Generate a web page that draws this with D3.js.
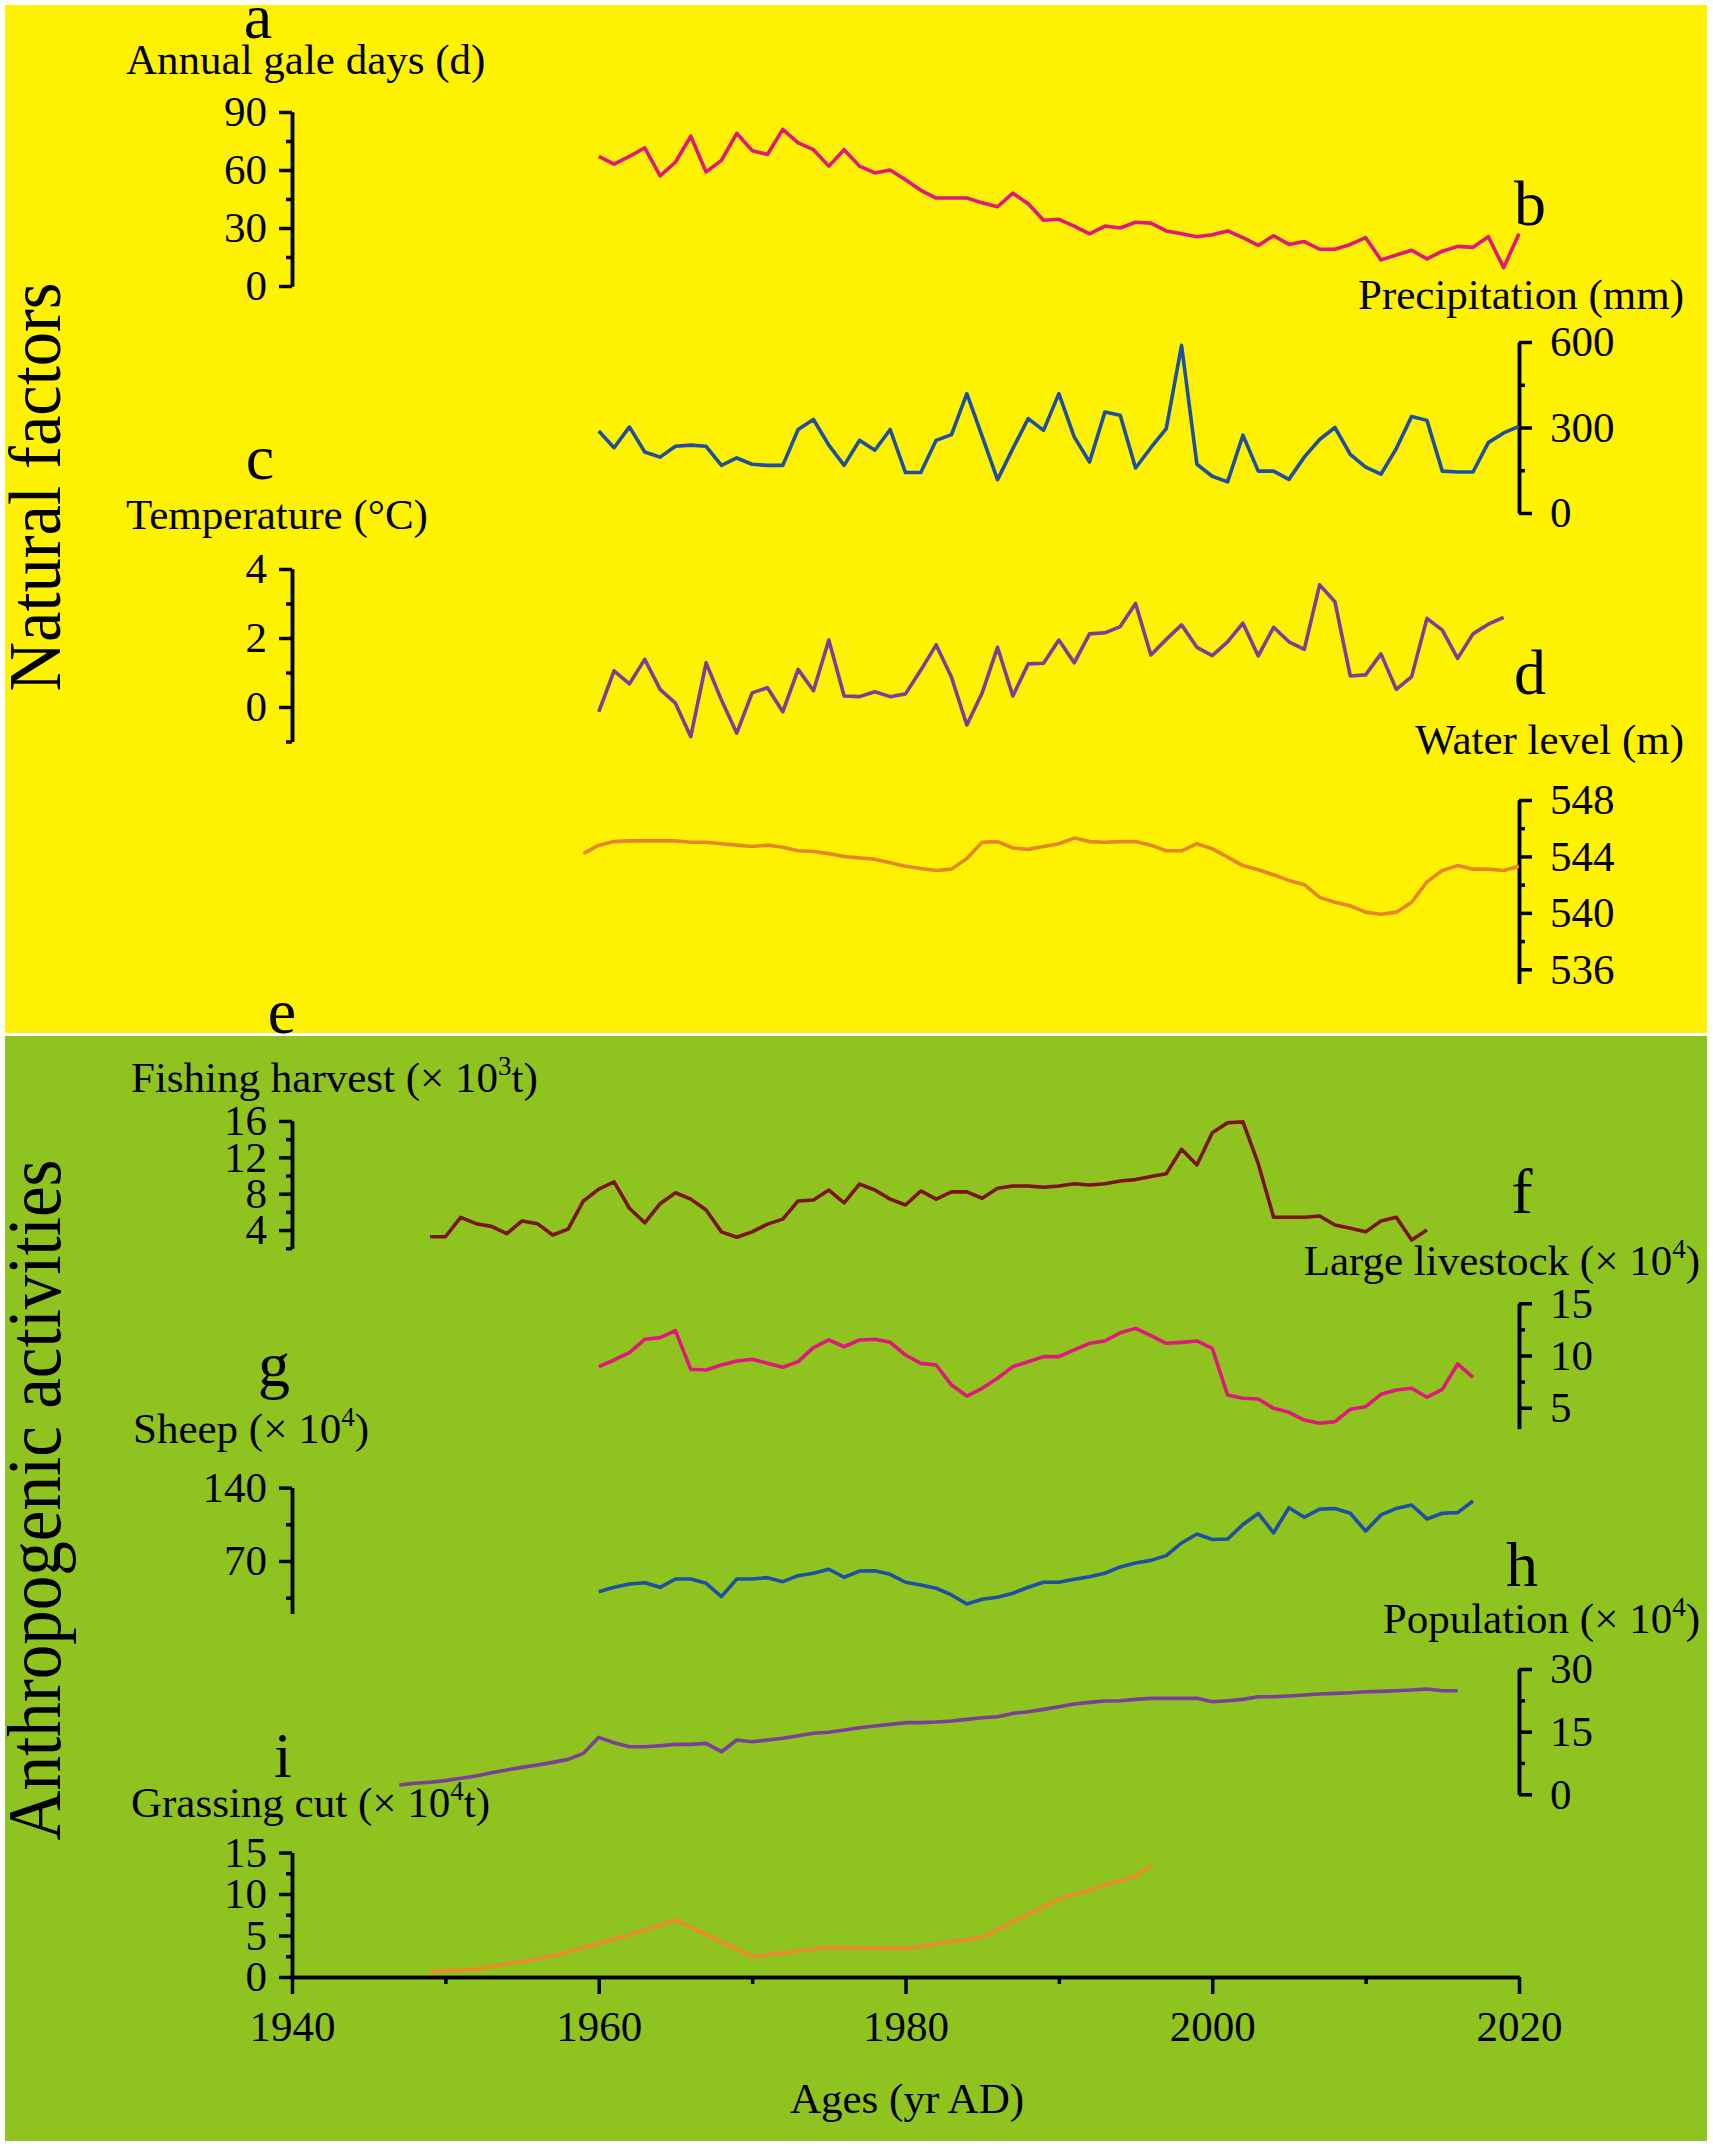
<!DOCTYPE html>
<html>
<head>
<meta charset="utf-8">
<script src="https://cdn.jsdelivr.net/npm/d3@7"></script>
<style>
    body { margin: 0; background: #ffffff; }
    text { font-family: "Liberation Serif", "Times New Roman", serif; fill: #000; }
</style>
</head>
<body>
<div id="wrapper"></div>
<script>
// 1. Data

const galeYears = d3.range(1960, 2021);
const galeDays = [
    67, 63, 67, 71.5, 57, 64, 77.5, 59, 65, 79,
    70, 68, 81, 74, 70.5, 62, 70.5, 62, 58.5, 60,
    55, 49.5, 45.5, 45.5, 45.5, 43, 41, 48, 42.5, 34,
    34.5, 31, 27, 31, 30, 33, 32.5, 28.5, 27, 25.5,
    26.5, 28.5, 25, 21, 26, 21.5, 23, 19, 19, 21.5,
    25, 13.5, 16, 18.5, 14, 18, 20.5, 20, 25.5, 9.5, 27
];

const precipYears = d3.range(1960, 2021);
const precipitation = [
    288, 229, 302, 214, 196, 234, 238, 234, 167, 193,
    171, 167, 167, 293, 328, 238, 167, 255, 220, 293,
    142, 142, 255, 275, 419, 269, 117, 226, 331, 290,
    419, 267, 179, 354, 343, 158, 229, 296, 588, 171,
    129, 109, 273, 147, 147, 118, 196, 258, 300, 206,
    161, 136, 226, 339, 325, 147, 144, 144, 247, 281, 304
];

const tempYears = d3.range(1960, 2020);
const temperature = [
    -0.14, 1.05, 0.67, 1.38, 0.51, 0.11, -0.86, 1.28, 0.2, -0.76,
    0.41, 0.56, -0.14, 1.09, 0.47, 1.94, 0.32, 0.3, 0.44, 0.3,
    0.38, 1.07, 1.8, 0.86, -0.52, 0.41, 1.73, 0.32, 1.25, 1.27,
    1.94, 1.28, 2.12, 2.15, 2.33, 3.0, 1.51, 1.96, 2.38, 1.73,
    1.49, 1.89, 2.43, 1.48, 2.31, 1.89, 1.67, 3.54, 3.05, 0.9,
    0.93, 1.54, 0.51, 0.88, 2.57, 2.23, 1.41, 2.12, 2.4, 2.6
];

const waterYears = d3.range(1959, 2021);
const waterLevel = [
    544.2,
    544.8, 545.05, 545.1, 545.1, 545.1, 545.1, 545.0, 545.0, 544.9, 544.8,
    544.7, 544.8, 544.65, 544.4, 544.35, 544.2, 544.0, 543.9, 543.8, 543.55,
    543.3, 543.15, 543.0, 543.1, 543.85, 545.0, 545.05, 544.6, 544.5, 544.7,
    544.9, 545.3, 545.05, 545.0, 545.05, 545.05, 544.8, 544.4, 544.4, 544.9,
    544.55, 543.95, 543.35, 543.05, 542.7, 542.3, 542.0, 541.1, 540.75, 540.5,
    540.05, 539.9, 540.05, 540.75, 542.2, 543.0, 543.35, 543.1, 543.1, 543.0, 543.3
];

const fishYears = d3.range(1949, 2015);
const fishing = [
    3.26, 3.26,
    5.4, 4.7, 4.4, 3.6, 5.0, 4.7, 3.45, 4.1, 7.2, 8.5,
    9.3, 6.4, 4.8, 6.9, 8.1, 7.4, 6.2, 3.8, 3.2, 3.8,
    4.65, 5.2, 7.2, 7.3, 8.4, 7.0, 9.05, 8.4, 7.4, 6.75,
    8.3, 7.4, 8.2, 8.2, 7.5, 8.6, 8.85, 8.85, 8.7, 8.85,
    9.1, 8.95, 9.1, 9.4, 9.55, 9.9, 10.2, 12.9, 11.15, 14.7,
    15.8, 15.9, 11.3, 5.4, 5.4, 5.4, 5.55, 4.55, 4.2, 3.8,
    5.0, 5.4, 2.9, 4.0
];

const livestockYears = d3.range(1960, 2018);
const largeLivestock = [
    8.93, 9.57, 10.27, 11.55, 11.71, 12.38, 8.68, 8.61, 9.09, 9.47,
    9.64, 9.25, 8.87, 9.41, 10.75, 11.49, 10.84, 11.49, 11.55, 11.26,
    10.05, 9.25, 9.09, 7.17, 6.12, 6.86, 7.82, 8.93, 9.41, 9.89,
    9.89, 10.53, 11.17, 11.39, 12.18, 12.6, 11.9, 11.17, 11.26, 11.39,
    10.69, 6.22, 5.9, 5.84, 4.94, 4.56, 3.82, 3.51, 3.67, 4.85,
    5.1, 6.28, 6.7, 6.86, 6.0, 6.76, 9.19, 7.91
];

const sheepYears = d3.range(1960, 2018);
const sheep = [
    40.7, 44.9, 48.1, 49.3, 44.9, 52.8, 52.8, 48.7, 36.0, 52.8,
    52.8, 54.1, 50.3, 56.0, 58.3, 62.1, 54.5, 60.4, 60.7, 57.3,
    49.7, 47.1, 44.0, 37.6, 29.0, 33.5, 35.4, 39.2, 44.9, 49.7,
    49.7, 52.5, 55.0, 58.3, 64.3, 68.1, 70.6, 75.1, 87.2, 95.7,
    90.5, 90.9, 104.8, 115.3, 96.9, 120.8, 111.7, 119.5, 120.1, 115.5,
    98.6, 113.9, 120.1, 123.4, 110.1, 115.5, 116.1, 127.2
];

const popYears = d3.range(1947, 2017);
const population = [
    2.23, 2.63, 2.87,
    3.27, 3.83, 4.38, 5.18, 5.82, 6.45, 7.01, 7.64, 8.36, 9.8,
    13.64, 12.36, 11.4, 11.4, 11.64, 11.96, 11.96, 12.2, 10.2, 13.0,
    12.6, 13.0, 13.4, 14.04, 14.6, 14.84, 15.39, 15.95, 16.35, 16.75,
    17.15, 17.15, 17.3, 17.54, 17.94, 18.34, 18.57, 19.37, 19.77, 20.34,
    20.97, 21.6, 22.0, 22.33, 22.4, 22.73, 22.97, 22.97, 22.97, 22.97,
    22.17, 22.4, 22.73, 23.37, 23.37, 23.53, 23.77, 24.0, 24.17, 24.33,
    24.57, 24.65, 24.8, 24.97, 25.2, 24.8, 24.8
];

const grassYears = [1949, 1952, 1957, 1962, 1965, 1970, 1975, 1980, 1985, 1990, 1995, 1996];
const grassCut = [0.64, 0.92, 2.53, 5.06, 6.87, 2.45, 3.57, 3.45, 4.78, 9.36, 12.17, 13.5];

const xMajorTicks = [1940, 1960, 1980, 2000, 2020];
const xMinorTicks = [1950, 1970, 1990, 2010];

// 2. Panel layout

const panels = [
    { letter: "a", years: galeYears, values: galeDays, color: "#e0177c", side: "left",
      domain: [0, 90], range: [286, 112], major: [0, 30, 60, 90], minor: [15, 45, 75],
      title: ["Annual gale days (d)"], titlePos: [126, 74, "start"], letterPos: [258, 38] },
    { letter: "b", years: precipYears, values: precipitation, color: "#1f4fa0", side: "right",
      domain: [0, 600], range: [513, 342], major: [0, 300, 600], minor: [150, 450],
      title: ["Precipitation (mm)"], titlePos: [1684, 309, "end"], letterPos: [1530, 225] },
    { letter: "c", years: tempYears, values: temperature, color: "#7a3f97", side: "left",
      domain: [-1, 4], range: [741.5, 569], major: [0, 2, 4], minor: [-1, 1, 3],
      title: ["Temperature (°C)"], titlePos: [126, 529, "start"], letterPos: [260, 479] },
    { letter: "d", years: waterYears, values: waterLevel, color: "#e6862c", side: "right",
      domain: [535, 548], range: [983.4, 800], major: [536, 540, 544, 548], minor: [538, 542, 546],
      title: ["Water level (m)"], titlePos: [1684, 754, "end"], letterPos: [1530, 694] },
    { letter: "e", years: fishYears, values: fishing, color: "#7a1517", side: "left",
      domain: [2, 16], range: [1248.2, 1121], major: [4, 8, 12, 16], minor: [2, 6, 10, 14],
      title: ["Fishing harvest (× 10", { sup: "3" }, "t)"], titlePos: [131, 1092, "start"], letterPos: [282, 1033] },
    { letter: "f", years: livestockYears, values: largeLivestock, color: "#e0177c", side: "right",
      domain: [3, 15], range: [1428.6, 1303.3], major: [5, 10, 15], minor: [7.5, 12.5],
      title: ["Large livestock (× 10", { sup: "4" }, ")"], titlePos: [1700, 1275, "end"], letterPos: [1522, 1213] },
    { letter: "g", years: sheepYears, values: sheep, color: "#1f4fa0", side: "left",
      domain: [20, 140], range: [1613.4, 1487.6], major: [70, 140], minor: [35, 105],
      title: ["Sheep (× 10", { sup: "4" }, ")"], titlePos: [133, 1443, "start"], letterPos: [274, 1386] },
    { letter: "h", years: popYears, values: population, color: "#7a3f97", side: "right",
      domain: [0, 30], range: [1794.3, 1669], major: [0, 15, 30], minor: [7.5, 22.5],
      title: ["Population (× 10", { sup: "4" }, ")"], titlePos: [1700, 1633, "end"], letterPos: [1522, 1586] },
    { letter: "i", years: grassYears, values: grassCut, color: "#ec8a2e", side: "left",
      domain: [0, 15], range: [1977, 1852.5], major: [0, 5, 10, 15], minor: [2.5, 7.5, 12.5],
      title: ["Grassing cut (× 10", { sup: "4" }, "t)"], titlePos: [131, 1817, "start"], letterPos: [283, 1777] }
];

// 3. Canvas

const dimensions = { width: 1713, height: 2146 };
const fontSize = 43;

const wrapper = d3.select("#wrapper")
    .append("svg")
    .attr("width", dimensions.width)
    .attr("height", dimensions.height);

wrapper.append("rect")
    .attr("x", 5).attr("y", 5)
    .attr("width", 1702).attr("height", 1028)
    .attr("fill", "#fff200");

wrapper.append("rect")
    .attr("x", 5).attr("y", 1036)
    .attr("width", 1702).attr("height", 1105)
    .attr("fill", "#8fc31f");

// 4. Scales

const xScale = d3.scaleLinear()
    .domain([1940, 2020])
    .range([292, 1519]);

function styleAxis(g) {
    g.attr("font-size", fontSize)
        .attr("font-family", null);
    g.selectAll("path, line")
        .attr("stroke", "#000")
        .attr("stroke-width", 3.5);
}

function addTitle(parts, pos) {
    const t = wrapper.append("text")
        .attr("x", pos[0])
        .attr("y", pos[1])
        .attr("text-anchor", pos[2])
        .style("font-size", fontSize + "px");
    let raised = false;
    parts.forEach(part => {
        if (typeof part === "string") {
            t.append("tspan")
                .attr("dy", raised ? 17 : 0)
                .text(part);
            raised = false;
        } else {
            t.append("tspan")
                .attr("dy", -17)
                .style("font-size", "27px")
                .text(part.sup);
            raised = true;
        }
    });
}

// 5. Panels

panels.forEach(p => {
    const yScale = d3.scaleLinear()
        .domain(p.domain)
        .range(p.range);

    const axisGen = p.side === "left" ? d3.axisLeft : d3.axisRight;
    const axisX = p.side === "left" ? xScale(1940) : xScale(2020);

    const axis = wrapper.append("g")
        .attr("transform", `translate(${axisX},0)`);

    axis.append("g")
        .call(axisGen(yScale).tickValues(p.minor).tickSize(6).tickSizeOuter(0).tickFormat(""))
        .call(styleAxis);

    axis.append("g")
        .call(axisGen(yScale).tickValues(p.major).tickSize(13).tickSizeOuter(0)
            .tickPadding(p.side === "left" ? 12 : 18).tickFormat(d3.format("")))
        .call(styleAxis);

    const lineGenerator = d3.line()
        .x((d, i) => xScale(p.years[i]))
        .y(d => yScale(d));

    wrapper.append("path")
        .datum(p.values)
        .attr("d", lineGenerator)
        .attr("fill", "none")
        .attr("stroke", p.color)
        .attr("stroke-width", 3.6)
        .attr("stroke-linejoin", "round");

    addTitle(p.title, p.titlePos);

    wrapper.append("text")
        .attr("x", p.letterPos[0])
        .attr("y", p.letterPos[1])
        .attr("text-anchor", "middle")
        .style("font-size", "64px")
        .text(p.letter);
});

// 6. Peripherals

const yBottom = 1977;

const xAxis = wrapper.append("g")
    .attr("transform", `translate(0,${yBottom})`);

xAxis.append("g")
    .call(d3.axisBottom(xScale).tickValues(xMinorTicks).tickSize(7).tickSizeOuter(0).tickFormat(""))
    .call(styleAxis);

xAxis.append("g")
    .call(d3.axisBottom(xScale).tickValues(xMajorTicks).tickSize(17).tickSizeOuter(0)
        .tickPadding(16).tickFormat(d3.format("")))
    .call(styleAxis);

wrapper.append("text")
    .attr("x", 907)
    .attr("y", 2113)
    .attr("text-anchor", "middle")
    .style("font-size", fontSize + "px")
    .text("Ages (yr AD)");

wrapper.append("text")
    .attr("transform", "translate(60,487) rotate(-90)")
    .attr("text-anchor", "middle")
    .attr("textLength", 409)
    .attr("lengthAdjust", "spacingAndGlyphs")
    .style("font-size", "74px")
    .text("Natural factors");

wrapper.append("text")
    .attr("transform", "translate(60,1500) rotate(-90)")
    .attr("text-anchor", "middle")
    .attr("textLength", 681)
    .attr("lengthAdjust", "spacingAndGlyphs")
    .style("font-size", "76px")
    .text("Anthropogenic activities");
</script>
</body>
</html>
